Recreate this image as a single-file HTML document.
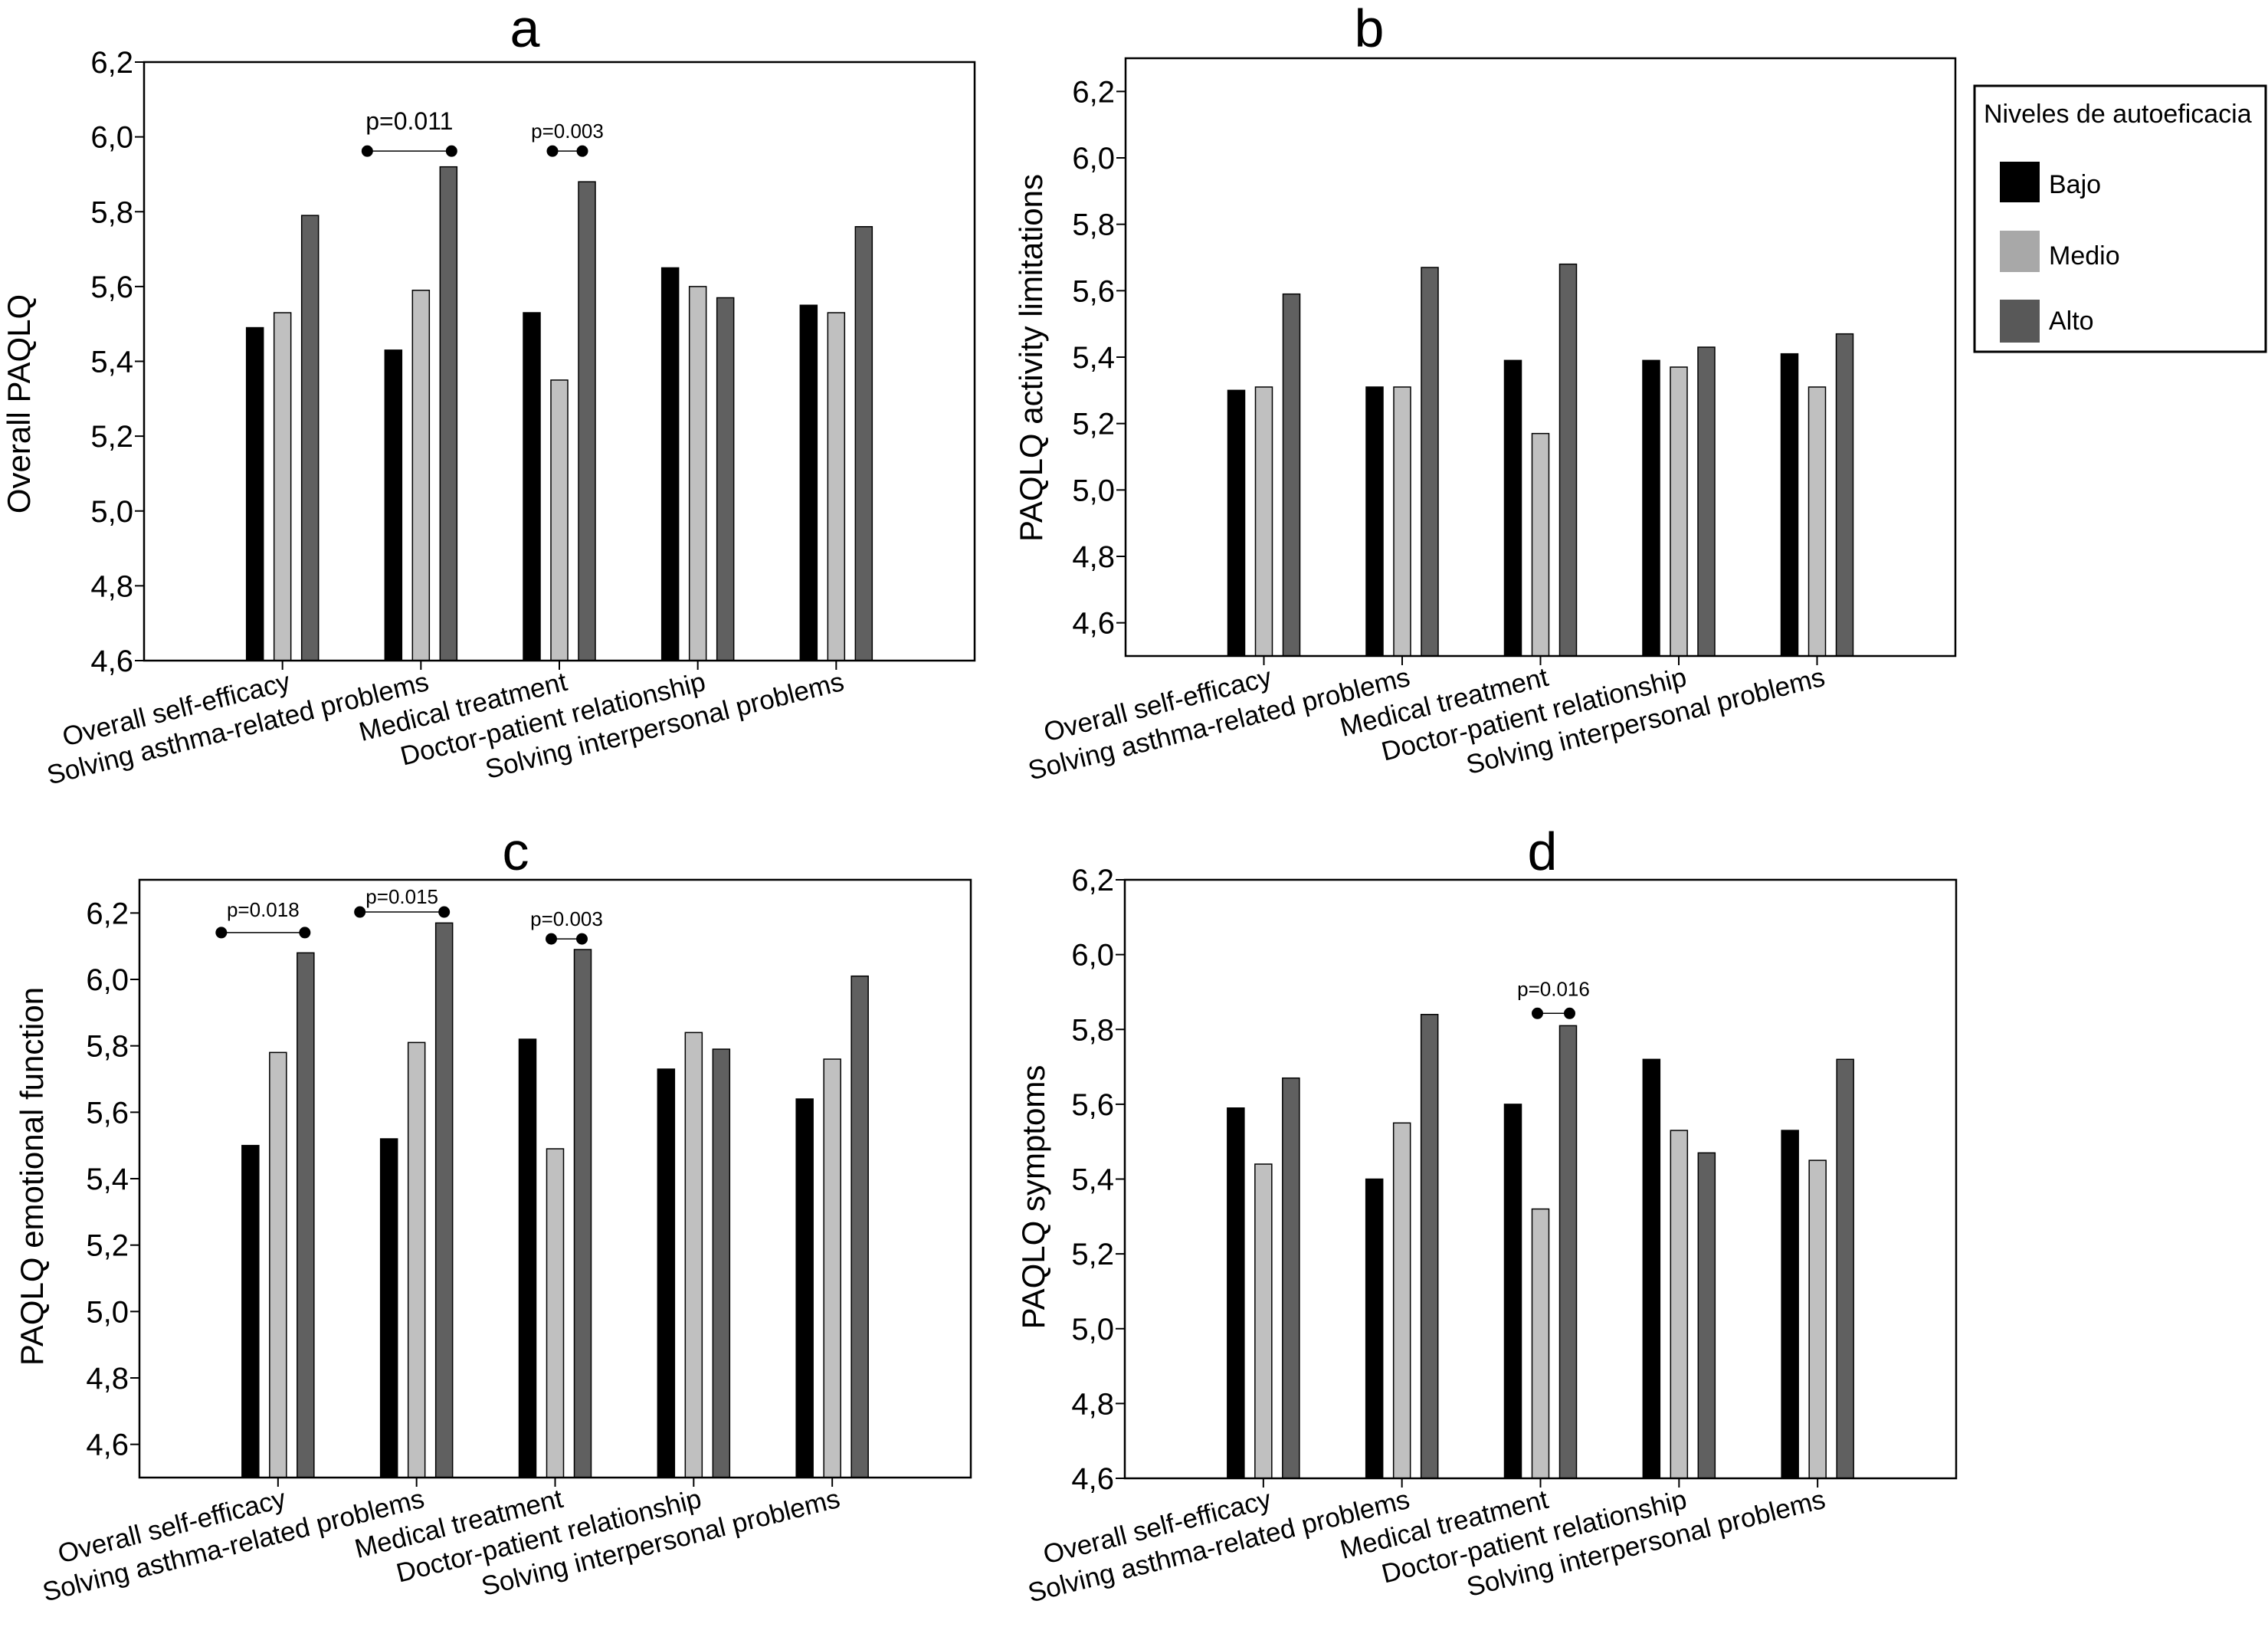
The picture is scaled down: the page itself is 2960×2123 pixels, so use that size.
<!DOCTYPE html>
<html><head><meta charset="utf-8"><style>
html,body{margin:0;padding:0;background:#fff;}
svg{display:block;font-family:"Liberation Sans",sans-serif;}
</style></head><body>
<svg id="chart" width="2960" height="2123" viewBox="0 0 2960 2123" xmlns="http://www.w3.org/2000/svg">
<rect x="0" y="0" width="2960" height="2123" fill="#fff"/>
<g>
<rect x="2577" y="112" width="380" height="347" fill="#fff" stroke="#000" stroke-width="3"/>
<text x="2589" y="160" font-size="34">Niveles de autoeficacia</text>
<rect x="2610" y="211" width="52" height="53" fill="#000"/>
<text x="2674" y="252" font-size="34">Bajo</text>
<rect x="2610" y="301" width="52" height="54" fill="#a8a8a8"/>
<text x="2674" y="345" font-size="34">Medio</text>
<rect x="2610" y="391" width="52" height="56" fill="#585858"/>
<text x="2674" y="430" font-size="34">Alto</text>
</g>
</svg>
<script>
const categories = ["Overall self-efficacy","Solving asthma-related problems","Medical treatment","Doctor-patient relationship","Solving interpersonal problems"];
const seriesNames = ["Bajo","Medio","Alto"];
const tickLabels = ["4,6","4,8","5,0","5,2","5,4","5,6","5,8","6,0","6,2"];
const tickValues = [4.6,4.8,5.0,5.2,5.4,5.6,5.8,6.0,6.2];
const aBajo = [5.49,5.43,5.53,5.65,5.55];
const aMedio = [5.53,5.59,5.35,5.60,5.53];
const aAlto = [5.79,5.92,5.88,5.57,5.76];
const bBajo = [5.30,5.31,5.39,5.39,5.41];
const bMedio = [5.31,5.31,5.17,5.37,5.31];
const bAlto = [5.59,5.67,5.68,5.43,5.47];
const cBajo = [5.50,5.52,5.82,5.73,5.64];
const cMedio = [5.78,5.81,5.49,5.84,5.76];
const cAlto = [6.08,6.17,6.09,5.79,6.01];
const dBajo = [5.59,5.40,5.60,5.72,5.53];
const dMedio = [5.44,5.55,5.32,5.53,5.45];
const dAlto = [5.67,5.84,5.81,5.47,5.72];
// [label, line value, category index, left offset(px), right offset(px), font size, text value]
const aPvals = [["p=0.011",5.962,1,-70,40,32,6.020],["p=0.003",5.962,2,-9,30,26,5.997]];
const cPvals = [["p=0.018",6.141,0,-74,35,26,6.189],["p=0.015",6.203,1,-74,36,26,6.228],["p=0.003",6.122,2,-5,35,26,6.162]];
const dPvals = [["p=0.016",5.843,2,-4,38,26,5.890]];

const NS="http://www.w3.org/2000/svg";
const svg=document.getElementById('chart');
function mk(tag,attrs,parent){const e=document.createElementNS(NS,tag);for(const k in attrs)e.setAttribute(k,attrs[k]);(parent||svg).appendChild(e);return e;}
const colors=["#000000","#c0c0c0","#606060"];

const panels=[
 {id:"a",x0:188,x1:1272,y0:81,y1:862,vmin:4.6,vmax:6.2,data:[aBajo,aMedio,aAlto],ylab:"Overall PAQLQ",ylx:24,yly:527,tx:685,ty:61,pv:aPvals},
 {id:"b",x0:1469,x1:2552,y0:76,y1:856,vmin:4.5,vmax:6.3,data:[bBajo,bMedio,bAlto],ylab:"PAQLQ activity limitations",ylx:1345,yly:467,tx:1787,ty:61,pv:[]},
 {id:"c",x0:182,x1:1267,y0:1148,y1:1928,vmin:4.5,vmax:6.3,data:[cBajo,cMedio,cAlto],ylab:"PAQLQ emotional function",ylx:41,yly:1535,tx:673,ty:1135,pv:cPvals},
 {id:"d",x0:1468,x1:2553,y0:1148,y1:1929,vmin:4.6,vmax:6.2,data:[dBajo,dMedio,dAlto],ylab:"PAQLQ symptoms",ylx:1348,yly:1562,tx:2013,ty:1135,pv:dPvals}
];

panels.forEach(p=>{
 const g=mk('g',{});
 
 
 const yS=v=>p.y1-(v-p.vmin)/(p.vmax-p.vmin)*(p.y1-p.y0);
 const step=(p.x1-p.x0)/(categories.length+1);
 const xS=i=>p.x0+step*(i+1);
 const t=mk('text',{x:p.tx,y:p.ty,'font-size':70,'text-anchor':'middle'},g);
 t.textContent=p.id;
 
 
 p.data.forEach((arr,s)=>{
  arr.forEach((v,i)=>{
   const cx=xS(i)+(s-1)*36;
   const r=mk('rect',{x:cx-11,y:yS(v),width:22,height:p.y1-yS(v),fill:colors[s],stroke:'#000','stroke-width':1.5},g);
   
   
  });
 });
 const box=mk('rect',{x:p.x0,y:p.y0,width:p.x1-p.x0,height:p.y1-p.y0,fill:'none',stroke:'#000','stroke-width':2.5},g);
 
 
 tickValues.forEach((v,k)=>{
  const y=yS(v);
  mk('line',{x1:p.x0-12,x2:p.x0,y1:y,y2:y,stroke:'#000','stroke-width':2},g);
  const tl=mk('text',{x:p.x0-14,y:y+14,'font-size':40,'text-anchor':'end'},g);
  tl.textContent=tickLabels[k];
  
  
 });
 categories.forEach((c,i)=>{
  const x=xS(i);
  mk('line',{x1:x,x2:x,y1:p.y1,y2:p.y1+12,stroke:'#000','stroke-width':2},g);
  const xl=mk('text',{'font-size':35,'text-anchor':'end',transform:'translate('+(x+12)+','+(p.y1+38)+') rotate(-14)'},g);
  xl.textContent=c;
  
  
 });
 const yl=mk('text',{'font-size':42,'text-anchor':'middle',transform:'translate('+(p.ylx+15)+','+p.yly+') rotate(-90)'},g);
 yl.textContent=p.ylab;
 
 
 p.pv.forEach(a=>{
  const y=yS(a[1]);
  const xa=xS(a[2])+a[3], xb=xS(a[2])+a[4];
  const ag=mk('g',{},g);
  
  
  mk('line',{x1:xa,x2:xb,y1:y,y2:y,stroke:'#000','stroke-width':1.5},ag);
  mk('circle',{cx:xa,cy:y,r:7.5,fill:'#000'},ag);
  mk('circle',{cx:xb,cy:y,r:7.5,fill:'#000'},ag);
  const pt=mk('text',{x:(xa+xb)/2,y:yS(a[6]),'font-size':a[5],'text-anchor':'middle'},ag);
  pt.textContent=a[0];
 });
});
</script>
</body></html>
